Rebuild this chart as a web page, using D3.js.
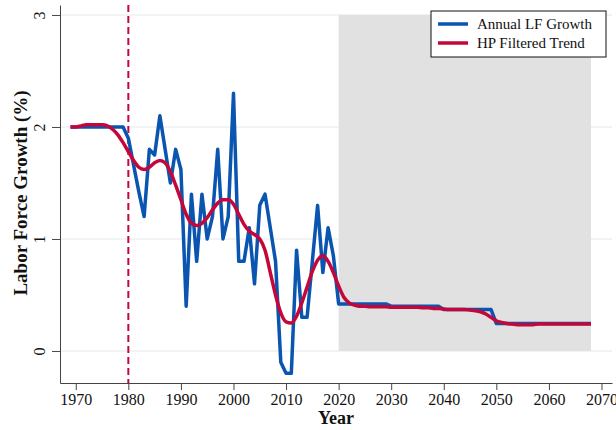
<!DOCTYPE html>
<html>
<head>
<meta charset="utf-8">
<script src="https://cdn.jsdelivr.net/npm/d3@7"></script>
<style>
  html, body { margin: 0; padding: 0; background: #fff; }
  svg { display: block; font-family: "Liberation Serif", "DejaVu Serif", serif; }
</style>
</head>
<body>
<svg id="chart" width="616" height="430"></svg>
<script>
// Years covered by both series
const years = d3.range(1969, 2069);

// Annual labor force growth (%), 1969-2068 (projection from 2020)
const annualGrowth = [
  2.0, 2.0, 2.0, 2.0, 2.0, 2.0, 2.0, 2.0, 2.0, 2.0, 2.0,        // 1969-1979
  1.9, 1.66, 1.42, 1.2, 1.8, 1.75, 2.1, 1.8, 1.5, 1.8,          // 1980-1989
  1.62, 0.4, 1.4, 0.8, 1.4, 1.0, 1.2, 1.8, 1.0, 1.2,            // 1990-1999
  2.3, 0.8, 0.8, 1.1, 0.6, 1.3, 1.4, 1.1, 0.8, -0.1,            // 2000-2009
  -0.2, -0.2, 0.9, 0.3, 0.3, 0.8, 1.3, 0.7, 1.1, 0.85,          // 2010-2019
  0.42, 0.42, 0.42, 0.42, 0.42, 0.42, 0.42, 0.42, 0.42, 0.42,   // 2020-2029
  0.40, 0.40, 0.40, 0.40, 0.40, 0.40, 0.40, 0.40, 0.40, 0.40,   // 2030-2039
  0.37, 0.37, 0.37, 0.37, 0.37, 0.37, 0.37, 0.37, 0.37, 0.37,   // 2040-2049
  0.245, 0.245, 0.245, 0.245, 0.245, 0.245, 0.245, 0.245, 0.245, 0.245, // 2050-2059
  0.245, 0.245, 0.245, 0.245, 0.245, 0.245, 0.245, 0.245, 0.245 // 2060-2068
];

// Hodrick-Prescott filtered trend (%)
const hpTrend = [
  2.0, 2.0, 2.01, 2.02, 2.02, 2.02, 2.02, 2.01, 1.98, 1.93, 1.86, // 1969-1979
  1.78, 1.70, 1.64, 1.62, 1.64, 1.68, 1.70, 1.68, 1.60, 1.48,     // 1980-1989
  1.35, 1.22, 1.14, 1.12, 1.14, 1.19, 1.26, 1.32, 1.35, 1.35,     // 1990-1999
  1.31, 1.22, 1.13, 1.07, 1.04, 1.0, 0.9, 0.7, 0.5, 0.34,         // 2000-2009
  0.26, 0.25, 0.31, 0.43, 0.57, 0.71, 0.81, 0.85, 0.80, 0.70,     // 2010-2019
  0.58, 0.48, 0.43, 0.41, 0.40, 0.40, 0.395, 0.395, 0.395, 0.395, // 2020-2029
  0.39, 0.39, 0.39, 0.39, 0.39, 0.39, 0.385, 0.385, 0.38, 0.38,   // 2030-2039
  0.375, 0.37, 0.37, 0.37, 0.37, 0.365, 0.36, 0.35, 0.33, 0.30,   // 2040-2049
  0.27, 0.255, 0.245, 0.24, 0.235, 0.235, 0.235, 0.235, 0.24, 0.24, // 2050-2059
  0.24, 0.24, 0.24, 0.24, 0.24, 0.24, 0.24, 0.24, 0.24            // 2060-2068
];

const xTicks = d3.range(1970, 2071, 10);
const yTicks = [0, 1, 2, 3];
const breakYear = 1980;            // vertical reference line
const projection = [2020, 2068];   // shaded projection window
const legendLabels = ["Annual LF Growth", "HP Filtered Trend"];

const blue = "#0a55b0";
const red = "#c4073a";

const svg = d3.select("#chart");
const plotLeft = 60, plotRight = 612, plotTop = 5, plotBottom = 383;

const x = d3.scaleLinear().domain([1967, 2072]).range([plotLeft, plotRight]);
const y = d3.scaleLinear().domain([-0.286, 3.089]).range([plotBottom, plotTop]);

// horizontal gridlines
svg.append("g").selectAll("line").data(yTicks).join("line")
  .attr("x1", plotLeft).attr("x2", plotRight)
  .attr("y1", d => y(d)).attr("y2", d => y(d))
  .attr("stroke", "#edf1f3").attr("stroke-width", 1.5);

// projection shading
svg.append("rect")
  .attr("x", x(projection[0])).attr("width", x(projection[1]) - x(projection[0]))
  .attr("y", y(3)).attr("height", y(0) - y(3))
  .attr("fill", "#e1e1e1");

// 1980 reference line
svg.append("line")
  .attr("x1", x(breakYear)).attr("x2", x(breakYear))
  .attr("y1", plotTop).attr("y2", plotBottom)
  .attr("stroke", red).attr("stroke-width", 2)
  .attr("stroke-dasharray", "7,4");

const lineAnnual = d3.line()
  .x((d, i) => x(years[i])).y(d => y(d));
const lineTrend = d3.line()
  .x((d, i) => x(years[i])).y(d => y(d))
  .curve(d3.curveMonotoneX);

svg.append("path").datum(annualGrowth)
  .attr("d", lineAnnual)
  .attr("fill", "none").attr("stroke", blue)
  .attr("stroke-width", 3.5).attr("stroke-linejoin", "round");

svg.append("path").datum(hpTrend)
  .attr("d", lineTrend)
  .attr("fill", "none").attr("stroke", red)
  .attr("stroke-width", 3.5).attr("stroke-linejoin", "round");

// axes
const xAxis = svg.append("g")
  .attr("transform", `translate(0,${plotBottom})`)
  .call(d3.axisBottom(x).tickValues(xTicks).tickFormat(d3.format("d")).tickSize(7).tickSizeOuter(0));
xAxis.select(".domain").attr("stroke", "#444");
xAxis.selectAll(".tick line").attr("stroke", "#444");
xAxis.selectAll(".tick text")
  .attr("font-family", "Liberation Serif").attr("font-size", 16).attr("fill", "#111").attr("dy", "0.75em");

const yAxis = svg.append("g")
  .attr("transform", `translate(${plotLeft},0)`)
  .call(d3.axisLeft(y).tickValues(yTicks).tickFormat(d3.format("d")).tickSize(8).tickSizeOuter(0));
yAxis.select(".domain").attr("stroke", "#444");
yAxis.selectAll(".tick line").attr("stroke", "#444");
yAxis.selectAll(".tick text")
  .attr("font-family", "Liberation Serif").attr("font-size", 16).attr("fill", "#111")
  .attr("x", null)
  .attr("text-anchor", "middle")
  .attr("transform", "translate(-15,0) rotate(-90)")
  .attr("dy", "0");

// axis titles
svg.append("text")
  .attr("x", (plotLeft + plotRight) / 2).attr("y", 424)
  .attr("text-anchor", "middle")
  .attr("font-weight", "bold").attr("font-size", 18).attr("fill", "#111")
  .text("Year");

svg.append("text")
  .attr("transform", `translate(27,${(y(0) + y(3)) / 2 + 10}) rotate(-90)`)
  .attr("text-anchor", "middle")
  .attr("font-weight", "bold").attr("font-size", 19).attr("fill", "#111")
  .text("Labor Force Growth (%)");

// legend
const lg = svg.append("g").attr("transform", "translate(431,11)");
lg.append("rect").attr("width", 175).attr("height", 46)
  .attr("fill", "#fff").attr("stroke", "#111").attr("stroke-width", 1);
[blue, red].forEach((c, i) => {
  lg.append("line")
    .attr("x1", 7).attr("x2", 37).attr("y1", 13 + i * 19).attr("y2", 13 + i * 19)
    .attr("stroke", c).attr("stroke-width", 3.5);
  lg.append("text")
    .attr("x", 46).attr("y", 18 + i * 19)
    .attr("font-size", 15).attr("fill", "#111")
    .text(legendLabels[i]);
});
</script>
</body>
</html>
